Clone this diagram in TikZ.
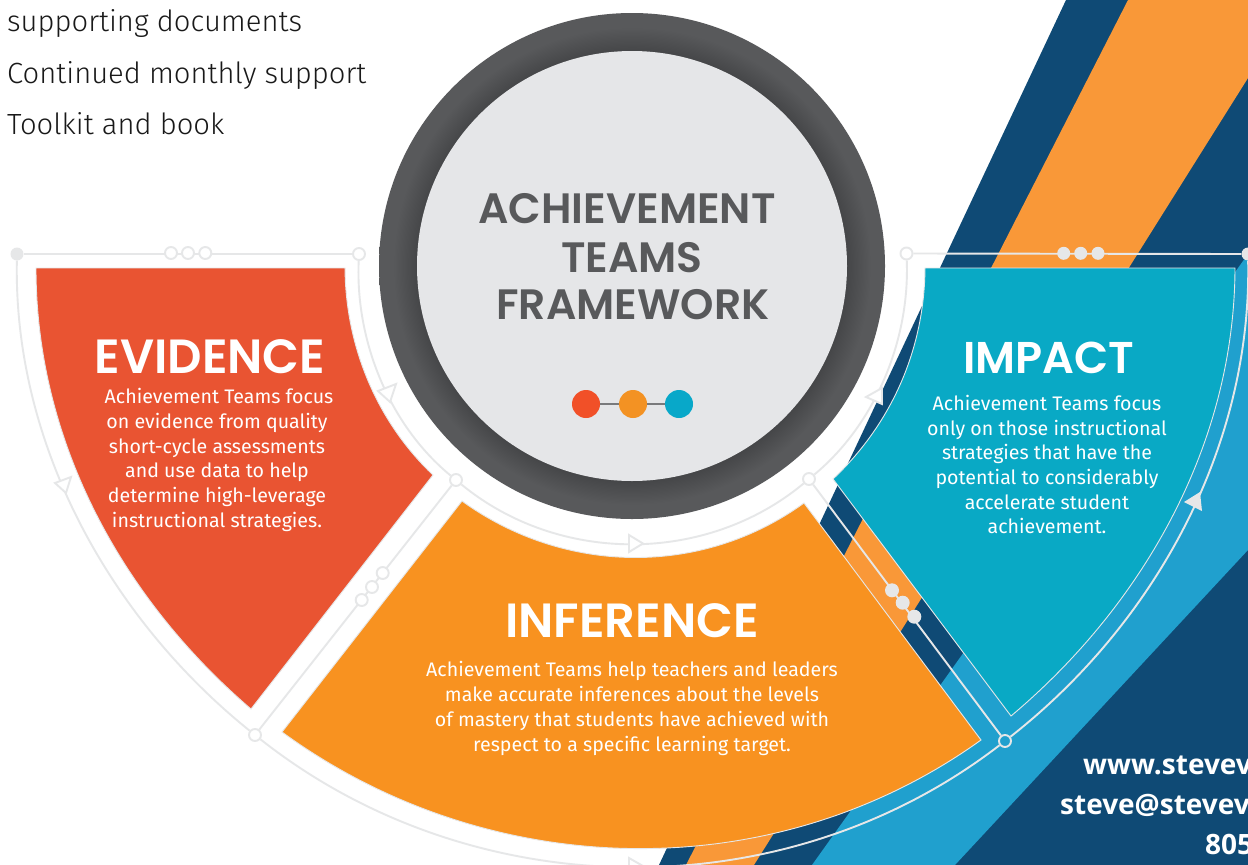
\documentclass[tikz,border=0pt]{standalone}
\usepackage{fontspec}
\setmainfont{Fira Sans}
\newfontfamily\sidefont{Fira Sans Light}
\newfontfamily\headfont{Poppins SemiBold}
\newfontfamily\urlfont{Open Sans}
\definecolor{navy}{HTML}{0F4A75}
\definecolor{stripeorange}{HTML}{F99838}
\definecolor{stripeblue}{HTML}{20A0CE}
\definecolor{impactteal}{HTML}{09A9C5}
\definecolor{infer}{HTML}{F89220}
\definecolor{evid}{HTML}{E95432}
\definecolor{ringline}{HTML}{E6E7E8}
\definecolor{slate}{HTML}{58595B}
\definecolor{slatedark}{HTML}{454648}
\definecolor{disc}{HTML}{E5E6E8}
\definecolor{pipred}{HTML}{F15028}
\definecolor{piporange}{HTML}{F39223}
\definecolor{pipblue}{HTML}{08A8C9}
\pgfdeclareradialshading{ringshade}{\pgfpointorigin}{color(0bp)=(slatedark);color(21.2bp)=(slatedark);color(23.6bp)=(slate);color(25bp)=(slate);color(50bp)=(slate)}
\tikzset{
  x=1pt,y=-1pt,
  ringpath/.style={draw=ringline,line width=1.9pt},
  hollow/.style={circle,draw=ringline,line width=1.9pt,fill=white,inner sep=0pt,minimum size=12pt},
  hollowblue/.style={hollow,fill=stripeblue},
  solid dot/.style={circle,fill=ringline,inner sep=0pt,minimum size=13pt},
  open tip/.style={draw=ringline,line width=1.9pt,fill=white,line join=miter},
  panel/.style={draw=ringline,line width=0.9pt,line join=miter},
  body/.style={anchor=base,text=white,font=\fontsize{19.6}{20}\selectfont,inner sep=0pt},
  head/.style={anchor=base,text=white,font=\headfont\fontsize{48}{50}\selectfont,inner sep=0pt},
  title/.style={anchor=base,text=slate,font=\headfont\fontsize{42.5}{44}\selectfont,inner sep=0pt},
  side/.style={anchor=base west,text=black!90,font=\sidefont\fontsize{29.2}{30}\selectfont,inner sep=0pt},
  url/.style={anchor=base west,text=white,font=\urlfont\bfseries\fontsize{28}{30}\selectfont,inner sep=0pt},
  pip/.style={circle,inner sep=0pt,minimum size=28pt},
}
\begin{document}
\begin{tikzpicture}
\useasboundingbox (0,0) rectangle (1248,865);
\clip (0,0) rectangle (1248,865);
\fill[white] (0,0) rectangle (1248,865);
% stripes
\fill[navy] (1066,0) -- (659,865) -- (1248,865) -- (1248,0) -- cycle;
\fill[stripeorange] (1128,0) -- (686,865) -- (754,865) -- (1248,78) -- (1248,0) -- cycle;
\fill[stripeblue] (1248,254) -- (812,865) -- (955,865) -- (1248,550) -- cycle;
% panels
\draw[panel,fill=evid] (36,268) -- (345,268) .. controls (345.5,345.9) and (376.3,421) .. (433,475) -- (251,709) .. controls (120.6,597) and (36,440) .. (36,268) -- cycle;
\draw[panel,fill=infer] (462,501) .. controls (563.7,574.6) and (701.4,577.4) .. (804,503) -- (981,740) .. controls (772,890) and (487.5,882) .. (282,732) -- cycle;
\draw[panel,fill=impactteal] (925,268) -- (1235,268) .. controls (1234.4,444.8) and (1143,604.9) .. (1011,716) -- (833,479) .. controls (891.8,423.5) and (924.4,348.9) .. (925,268) -- cycle;
% junction nodes
\node[solid dot] (ja) at (17,254) {};
\node[hollow] (jb) at (359,254) {};
\node[hollow] (jc) at (456,480) {};
\node[hollow] (jd) at (809,479) {};
\node[hollow] (je) at (906.5,253.5) {};
\node[hollow] (jf) at (255,735) {};
\node[hollowblue] (jg) at (1005,741) {};
\node[solid dot] (jh) at (1248,254) {};
\draw[ringpath] (ja) -- (jb);
\draw[ringpath] (jb) .. controls (355.2,339.9) and (388.7,424.6) .. (jc);
\draw[ringpath] (jc) .. controls (559,564.7) and (706.5,564.2) .. (jd);
\draw[ringpath] (jd) .. controls (875.6,423.6) and (909.8,339.7) .. (je);
\draw[ringpath] (jc) -- (jf);
\draw[ringpath] (jd) -- (jg);
\draw[ringpath] (ja) .. controls (13.3,444.3) and (110,618.3) .. (jf);
\draw[ringpath] (jf) .. controls (472.9,907) and (784.4,911) .. (jg);
\draw[ringpath] (jg) .. controls (1154.3,623.8) and (1251.8,447.6) .. (jh);
\draw[ringpath] (je) -- (jh);
% beads
\node[hollow] (l1) at (171,253) {};
\node[hollow] (l2) at (188,253) {};
\node[hollow] (l3) at (205.3,253) {};
\node[hollow] (m1) at (361.7,600) {};
\node[hollow] (m2) at (372,587) {};
\node[hollow] (m3) at (382.7,573) {};
\node[solid dot,minimum size=14pt] (r1) at (892,590.3) {};
\node[solid dot,minimum size=14pt] (r2) at (902.7,602.7) {};
\node[solid dot,minimum size=14pt] (r3) at (914.3,616.7) {};
\node[solid dot] (t1) at (1063.7,253.3) {};
\node[solid dot] (t2) at (1080.7,253.3) {};
\node[solid dot] (t3) at (1098,253.3) {};
% arrowheads
\draw[open tip] (378,391) -- (396,384) -- (390,402) -- cycle;
\draw[open tip] (55,483) -- (71,477) -- (66,493) -- cycle;
\draw[open tip] (643,543.5) -- (629,535) -- (629,552) -- cycle;
\draw[open tip] (643,866) -- (629,858) -- (629,875) -- cycle;
\draw[open tip] (866,397) -- (882,388) -- (882,404) -- cycle;
\fill[ringline] (1184,502) -- (1200,492) -- (1202,511) -- cycle;
% central disc
\shade[shading=ringshade] (632,266) circle[radius=253];
\fill[disc] (632,266) circle[radius=215];
\node[title] (tt1) at (627,223) {ACHIEVEMENT};
\node[title] (tt2) at (632,272) {TEAMS};
\node[title] (tt3) at (633,319) {FRAMEWORK};
\node[pip,fill=pipred] (p1) at (586,404) {};
\node[pip,fill=piporange] (p2) at (633,404) {};
\node[pip,fill=pipblue] (p3) at (679,404) {};
\draw[slate!80,line width=1.3pt] (p1) -- (p2);
\draw[slate!80,line width=1.3pt] (p2) -- (p3);
% side list
\node[side] (s1) at (7,31) {supporting documents};
\node[side] (s2) at (7,83) {Continued monthly support};
\node[side] (s3) at (7,134) {Toolkit and book};
% evidence
\node[head] (eh) at (210,373) {EVIDENCE};
\node[body] (e1) at (219,403.5) {Achievement Teams focus};
\node[body] (e2) at (217,428.5) {on evidence from quality};
\node[body] (e3) at (217,453) {short-cycle assessments};
\node[body] (e4) at (217,477) {and use data to help};
\node[body] (e5) at (217,502) {determine high-leverage};
\node[body] (e6) at (217,527) {instructional strategies.};
% impact
\node[head,font=\headfont\fontsize{44.5}{46}\selectfont] (ih) at (1049,373) {IMPACT};
\node[body] (i1) at (1047,410) {Achievement Teams focus};
\node[body] (i2) at (1047,435) {only on those instructional};
\node[body] (i3) at (1047,459) {strategies that have the};
\node[body] (i4) at (1047,484) {potential to considerably};
\node[body] (i5) at (1047,509) {accelerate student};
\node[body] (i6) at (1047,533.5) {achievement.};
% inference
\node[head] (fh) at (632,637) {INFERENCE};
\node[body] (f1) at (632,676) {Achievement Teams help teachers and leaders};
\node[body] (f2) at (632,701) {make accurate inferences about the levels};
\node[body] (f3) at (632,726) {of mastery that students have achieved with};
\node[body] (f4) at (632,751) {respect to a specific learning target.};
% url
\node[url] (u1) at (1083,774) {www.stevev};
\node[url] (u2) at (1060,814) {steve@stevev};
\node[url] (u3) at (1205,854) {805};
\end{tikzpicture}
\end{document}
